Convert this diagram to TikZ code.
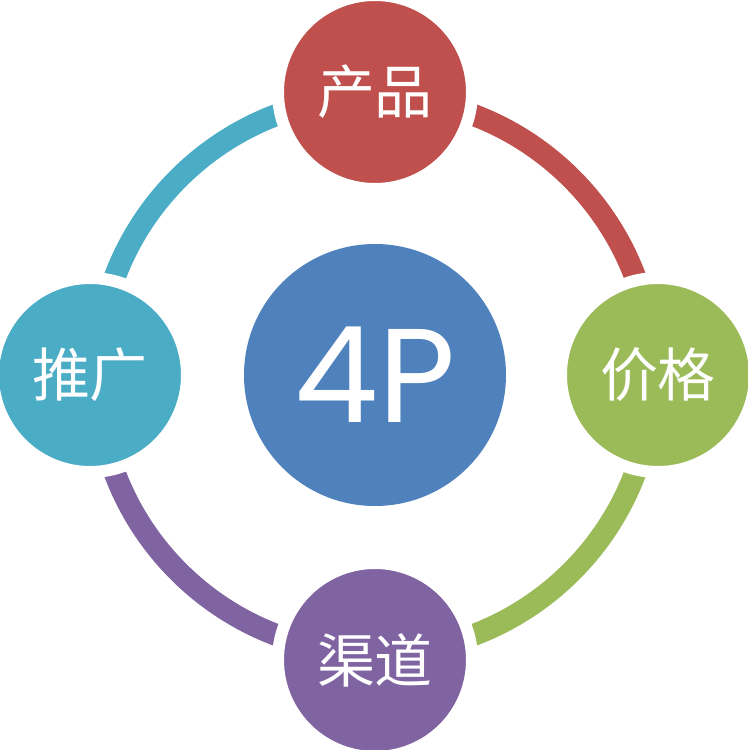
\documentclass[tikz,border=0pt]{standalone}
\usepackage{fontspec}
\usepackage{tikz}
\usetikzlibrary{backgrounds}
\usepackage{xcolor}
\newfontfamily\cjk{Noto Sans CJK SC}
\newfontfamily\geo{Poppins}
\definecolor{pred}{HTML}{C0504D}
\definecolor{pgreen}{HTML}{9BBB59}
\definecolor{ppurple}{HTML}{8064A2}
\definecolor{pcyan}{HTML}{4BACC6}
\definecolor{pblue}{HTML}{4F81BD}

\begin{document}
\begin{tikzpicture}[
	sat/.style={circle, draw=white, line width=0.24cm, inner sep=0pt, minimum size=3.88cm,
		text=white, font=\cjk\fontsize{33}{33}\selectfont},
	ring/.style={line width=0.44cm}]
	\useasboundingbox (-7.5,-7.5) rectangle (7.44,7.5);
	\node[name=c, circle, fill=pblue, inner sep=0pt, minimum size=5.24cm, text=white,
	font=\geo\fontsize{76}{76}\selectfont] at (0,0) {4P};
	\node[name=a, sat, fill=pred, yshift=5.66cm] {产品};
	\node[name=b, sat, fill=pgreen, xshift=5.66cm] {价格};
	\node[name=d, sat, fill=ppurple, yshift=-5.7cm] {渠道};
	\node[name=e, sat, fill=pcyan, xshift=-5.7cm] {推广};
%	ring behind the circles
	\begin{scope}[on background layer]
	\draw[ring, pred] (c) ++(90:5.56) arc[start angle=90, end angle=0, radius=5.56];
	\draw[ring, pgreen] (c) ++(0:5.56) arc[start angle=0, end angle=-90, radius=5.56];
	\draw[ring, ppurple] (c) ++(-90:5.56) arc[start angle=-90, end angle=-180, radius=5.56];
	\draw[ring, pcyan] (c) ++(180:5.56) arc[start angle=180, end angle=90, radius=5.56];
	\end{scope}
\end{tikzpicture}
\end{document}
